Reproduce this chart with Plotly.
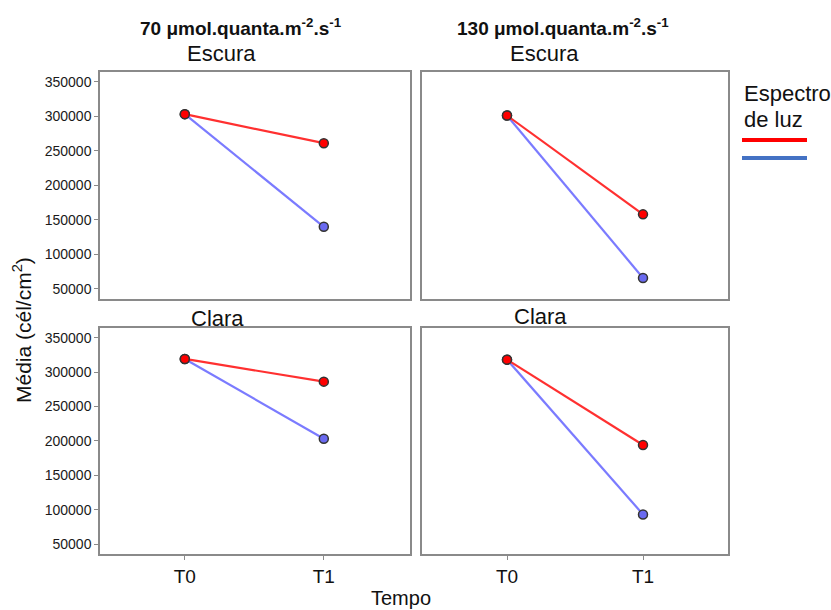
import plotly.graph_objects as go

# ---- data ----
tempos = ["T0", "T1"]
panel_titles_top = ["70 μmol.quanta.m<sup>-2</sup>.s<sup>-1</sup>", "130 μmol.quanta.m<sup>-2</sup>.s<sup>-1</sup>"]
row_labels = ["Escura", "Clara"]
vermelho_escura_70 = [303000, 261000]
azul_escura_70 = [303000, 140000]
vermelho_escura_130 = [301000, 158000]
azul_escura_130 = [301000, 66000]
vermelho_clara_70 = [319000, 286000]
azul_clara_70 = [319000, 203000]
vermelho_clara_130 = [318000, 194000]
azul_clara_130 = [318000, 93000]
y_ticks = [50000, 100000, 150000, 200000, 250000, 300000, 350000]

W, H = 831, 610
FONT = "Liberation Sans, Arial, sans-serif"

fig = go.Figure()

panels = [
    (1, vermelho_escura_70, azul_escura_70),
    (2, vermelho_escura_130, azul_escura_130),
    (3, vermelho_clara_70, azul_clara_70),
    (4, vermelho_clara_130, azul_clara_130),
]

for idx, red, blue in panels:
    xa = "x" if idx == 1 else f"x{idx}"
    ya = "y" if idx == 1 else f"y{idx}"
    fig.add_trace(go.Scatter(x=tempos, y=blue, mode="lines+markers", xaxis=xa, yaxis=ya,
                             line=dict(color="#7b7bff", width=2.2),
                             marker=dict(size=9, color="#6a6af0", line=dict(color="#333333", width=1.5)),
                             showlegend=False))
    fig.add_trace(go.Scatter(x=tempos, y=red, mode="lines+markers", xaxis=xa, yaxis=ya,
                             line=dict(color="#ff3030", width=2.2),
                             marker=dict(size=9, color="#ff0000", line=dict(color="#333333", width=1.5)),
                             showlegend=False))

def px_x(a, b):
    return [a / W, b / W]

def px_y(top, bottom):
    return [1 - bottom / H, 1 - top / H]

domains = {
    1: (px_x(100, 410), px_y(72, 299)),
    2: (px_x(422, 728), px_y(72, 299)),
    3: (px_x(100, 410), px_y(328, 554)),
    4: (px_x(422, 728), px_y(328, 554)),
}
xranges = {1: [-0.61, 1.62], 2: [-0.625, 1.625], 3: [-0.61, 1.62], 4: [-0.625, 1.625]}

axis_common = dict(showline=True, linecolor="#8a8a8a", linewidth=1.5, mirror=True,
                   showgrid=False, zeroline=False, ticks="outside", ticklen=4,
                   tickcolor="#8a8a8a", tickwidth=1)

for idx in range(1, 5):
    xd, yd = domains[idx]
    xk = "xaxis" if idx == 1 else f"xaxis{idx}"
    yk = "yaxis" if idx == 1 else f"yaxis{idx}"
    xname = "x" if idx == 1 else f"x{idx}"
    yname = "y" if idx == 1 else f"y{idx}"
    xax = dict(axis_common, domain=xd, anchor=yname, type="category",
               range=xranges[idx], showticklabels=idx >= 3,
               tickfont=dict(size=19, color="#111111", family=FONT))
    yax = dict(axis_common, domain=yd, anchor=xname, range=[35500, 364000],
               tickvals=y_ticks, ticktext=[str(v) for v in y_ticks],
               showticklabels=idx in (1, 3),
               tickfont=dict(size=14, color="#1a1a1a", family=FONT))
    if idx in (2, 4):
        yax["ticks"] = ""
    if idx in (1, 2):
        xax["ticks"] = ""
    fig.layout[xk] = xax
    fig.layout[yk] = yax

ann = []
ann.append(dict(x=241 / W, y=1 - 27 / H, text="<b>" + panel_titles_top[0] + "</b>",
                font=dict(size=19, color="#111111", family=FONT)))
ann.append(dict(x=563 / W, y=1 - 27 / H, text="<b>" + panel_titles_top[1] + "</b>",
                font=dict(size=19, color="#111111", family=FONT)))
ann.append(dict(x=221 / W, y=1 - 53 / H, text=row_labels[0], font=dict(size=22, color="#111111", family=FONT)))
ann.append(dict(x=544 / W, y=1 - 53 / H, text=row_labels[0], font=dict(size=22, color="#111111", family=FONT)))
ann.append(dict(x=217 / W, y=1 - 318 / H, text=row_labels[1], font=dict(size=22, color="#111111", family=FONT)))
ann.append(dict(x=540 / W, y=1 - 316 / H, text=row_labels[1], font=dict(size=22, color="#111111", family=FONT)))
ann.append(dict(x=401 / W, y=1 - 598 / H, text="Tempo", font=dict(size=20, color="#111111", family=FONT)))
ann.append(dict(x=22 / W, y=1 - 330 / H, text="Média (cél/cm<sup>2</sup>)", textangle=-90,
                font=dict(size=21, color="#111111", family=FONT)))
ann.append(dict(x=742 / W, y=1 - 94 / H, text="Espectro", xanchor="left",
                font=dict(size=22, color="#111111", family=FONT)))
ann.append(dict(x=742 / W, y=1 - 119 / H, text="de luz", xanchor="left",
                font=dict(size=22, color="#111111", family=FONT)))
for a in ann:
    a.setdefault("xanchor", "center")
    a.update(xref="paper", yref="paper", yanchor="middle", showarrow=False)

shapes = [
    dict(type="line", xref="paper", yref="paper", x0=742 / W, x1=807 / W,
         y0=1 - 140 / H, y1=1 - 140 / H, line=dict(color="#ff0000", width=4)),
    dict(type="line", xref="paper", yref="paper", x0=742 / W, x1=807 / W,
         y0=1 - 158 / H, y1=1 - 158 / H, line=dict(color="#4472c4", width=4)),
]

fig.update_layout(width=W, height=H, margin=dict(l=0, r=0, t=0, b=0, autoexpand=False),
                  paper_bgcolor="white", plot_bgcolor="white",
                  annotations=ann, shapes=shapes, font=dict(family=FONT))

fig.write_html("out.html")
